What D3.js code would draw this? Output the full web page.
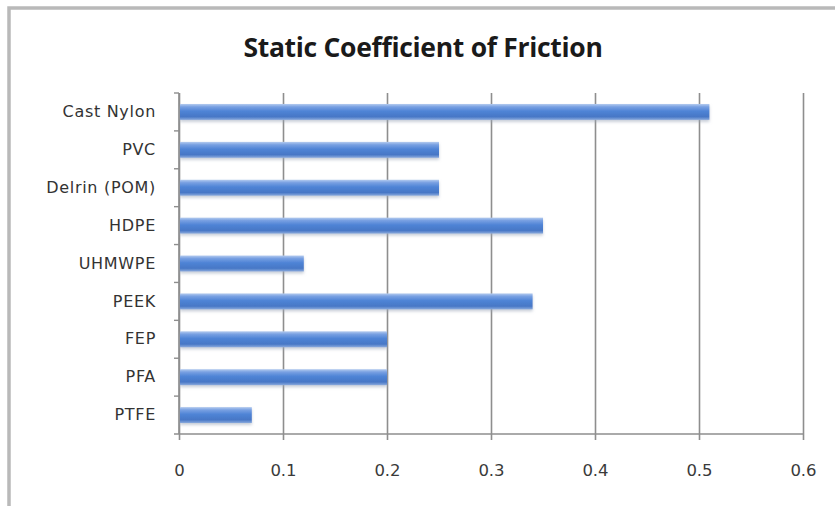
<!DOCTYPE html>
<html>
<head>
<meta charset="utf-8">
<script src="https://cdn.jsdelivr.net/npm/d3@7"></script>
<style>
  html, body { margin: 0; padding: 0; background: #fff; }
  svg { display: block; }
</style>
</head>
<body>
<svg id="chart" width="835" height="506"></svg>
<script>
// Static coefficient of friction for common engineering plastics
const categories = ["Cast Nylon", "PVC", "Delrin (POM)", "HDPE", "UHMWPE", "PEEK", "FEP", "PFA", "PTFE"];
const values = [0.51, 0.25, 0.25, 0.35, 0.12, 0.34, 0.2, 0.2, 0.07];
const xTicks = [0, 0.1, 0.2, 0.3, 0.4, 0.5, 0.6];
const title = "Static Coefficient of Friction";

const W = 835, H = 506;
const plot = { left: 179, right: 803, top: 93, bottom: 434 };
const labelFont = "'DejaVu Sans', sans-serif";

const svg = d3.select("#chart");

// outer frame
svg.append("rect")
  .attr("x", 9).attr("y", 8)
  .attr("width", W + 20).attr("height", H + 20)
  .attr("fill", "#fff")
  .attr("stroke", "#b9b9b9")
  .attr("stroke-width", 3.5);

const defs = svg.append("defs");
const grad = defs.append("linearGradient")
  .attr("id", "barGrad").attr("x1", 0).attr("y1", 0).attr("x2", 0).attr("y2", 1);
[["0%", "#b4cbef"], ["18%", "#78a0e2"], ["45%", "#4f84d6"], ["80%", "#4777c6"], ["100%", "#8aaadd"]]
  .forEach(([o, c]) => grad.append("stop").attr("offset", o).attr("stop-color", c));

const shadow = defs.append("filter").attr("id", "barShadow")
  .attr("x", "-5%").attr("y", "-40%").attr("width", "110%").attr("height", "200%");
shadow.append("feDropShadow")
  .attr("dx", 0).attr("dy", 2).attr("stdDeviation", 1.6)
  .attr("flood-color", "#9aa6b8").attr("flood-opacity", 0.55);

const x = d3.scaleLinear().domain([0, 0.6]).range([plot.left, plot.right]);
const y = d3.scaleBand().domain(categories).range([plot.top, plot.bottom])
  .paddingInner(0.58).paddingOuter(0.29);

// title
svg.append("text")
  .attr("x", 423).attr("y", 57)
  .attr("text-anchor", "middle")
  .attr("font-family", "'Open Sans', sans-serif")
  .attr("font-weight", 700)
  .attr("font-size", 26.5)
  .attr("letter-spacing", -0.3)
  .attr("fill", "#1a1a1a")
  .text(title);

// vertical gridlines with bottom value axis
const xAxis = d3.axisBottom(x)
  .tickValues(xTicks)
  .tickFormat(d => d === 0 ? "0" : d3.format(".1f")(d))
  .tickSize(-(plot.bottom - plot.top))
  .tickSizeOuter(0)
  .tickPadding(30);

const gx = svg.append("g")
  .attr("transform", `translate(0,${plot.bottom})`)
  .call(xAxis);
gx.select(".domain").remove();
gx.selectAll(".tick line")
  .attr("stroke", "#8e8e8e")
  .attr("stroke-width", 1.6)
  .attr("y2", -(plot.bottom - plot.top))
  .attr("y1", 6);
gx.selectAll(".tick text")
  .attr("font-family", labelFont)
  .attr("font-size", 16.5)
  .attr("fill", "#3a3a3a");

// bottom baseline
svg.append("line")
  .attr("x1", plot.left - 5).attr("x2", plot.right)
  .attr("y1", plot.bottom).attr("y2", plot.bottom)
  .attr("stroke", "#8e8e8e").attr("stroke-width", 1.6);

// category axis
const yAxis = d3.axisLeft(y).tickSize(0).tickPadding(23);
const gy = svg.append("g")
  .attr("transform", `translate(${plot.left},0)`)
  .call(yAxis);
gy.select(".domain").remove();
gy.selectAll(".tick text")
  .attr("font-family", labelFont)
  .attr("font-size", 16)
  .attr("letter-spacing", 0.7)
  .attr("fill", "#333");

svg.append("line")
  .attr("x1", plot.left).attr("x2", plot.left)
  .attr("y1", plot.top).attr("y2", plot.bottom)
  .attr("stroke", "#8e8e8e").attr("stroke-width", 1.6);

// category boundary ticks
const step = y.step();
const boundaries = categories.map(c => y(c) - (step - y.bandwidth()) / 2);
svg.append("g").selectAll("line")
  .data(boundaries)
  .join("line")
  .attr("x1", plot.left - 5).attr("x2", plot.left)
  .attr("y1", d => d).attr("y2", d => d)
  .attr("stroke", "#8e8e8e").attr("stroke-width", 1.4);

// bars
svg.append("g").selectAll("rect")
  .data(categories.map((c, i) => ({ c, v: values[i] })))
  .join("rect")
  .attr("x", x(0) + 1)
  .attr("y", d => y(d.c))
  .attr("width", d => x(d.v) - x(0) - 1)
  .attr("height", y.bandwidth())
  .attr("fill", "url(#barGrad)")
  .attr("filter", "url(#barShadow)");
</script>
</body>
</html>
